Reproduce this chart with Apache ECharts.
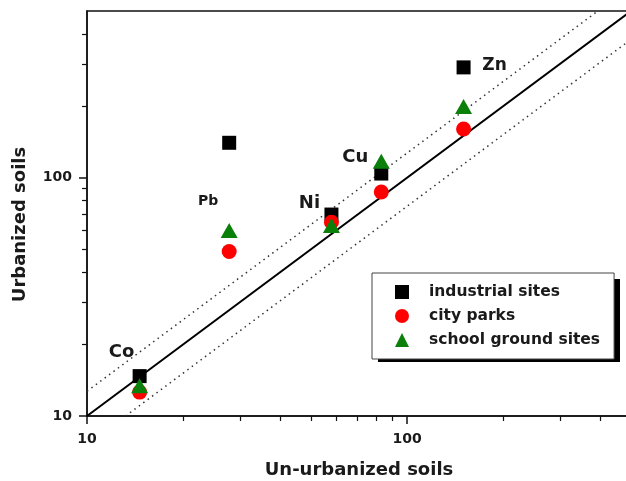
<!DOCTYPE html>
<html>
<head>
<meta charset="utf-8">
<script src="https://cdn.jsdelivr.net/npm/echarts@6/dist/echarts.min.js"></script>
<style>html,body{margin:0;padding:0;background:#fff}#c{width:626px;height:481px}</style>
</head>
<body>
<div id="c"></div>
<script>
// Data (log-log): un-urbanized soils (x) vs urbanized soils (y)
const elements = ['Co', 'Pb', 'Ni', 'Cu', 'Zn'];
const unUrbanized = [14.6, 27.8, 58, 83, 150];
const industrialSites = [14.7, 140, 70, 104, 290];
const cityParks = [12.6, 49, 65, 87, 160];
const schoolGroundSites = [13.4, 60, 63, 117, 199];
const majorTicks = [10, 100];
const oneToOne = [[10, 10], [500, 500]];
const upperBound = [[10, 12.7], [394, 500]];
const lowerBound = [[13.2, 10], [500, 380]];

const FONT = 'DejaVu Sans, sans-serif';
const TXT = '#1a1a1a';

function pairs(ys) { return unUrbanized.map((x, i) => [x, ys[i]]); }

const labelOffsets = {Co: [-18, -24], Pb: [-21, 59], Ni: [-22, -11], Cu: [-26, -16], Zn: [31, -2]};
const labelSizes = {Co: 18, Pb: 14, Ni: 18, Cu: 18, Zn: 17};

const axisCommon = {
  type: 'log', logBase: 10, min: 10, max: 500,
  axisLine: {show: true, lineStyle: {color: '#111', width: 1.5}},
  axisTick: {show: true, inside: false, length: 8, customValues: majorTicks, lineStyle: {color: '#111', width: 1.5}},
  minorTick: {show: true, splitNumber: 9, length: 5, lineStyle: {color: '#111', width: 1.2}},
  splitLine: {show: false}, minorSplitLine: {show: false}
};

const chart = echarts.init(document.getElementById('c'), null, {renderer: 'canvas'});
chart.setOption({
  animation: false,
  backgroundColor: '#fff',
  grid: {left: 87, top: 11, width: 544, height: 405, outerBoundsMode: 'none', containLabel: false,
    show: true, borderColor: '#111', borderWidth: 1.5, backgroundColor: 'transparent'},
  xAxis: Object.assign({}, axisCommon, {
    name: 'Un-urbanized soils', nameLocation: 'middle', nameGap: 45,
    nameTextStyle: {fontFamily: FONT, fontWeight: 'bold', fontSize: 18, color: TXT},
    axisLabel: {fontFamily: FONT, fontWeight: 'bold', fontSize: 14, color: TXT, margin: 16, customValues: majorTicks}
  }),
  yAxis: Object.assign({}, axisCommon, {
    name: 'Urbanized soils', nameLocation: 'middle', nameGap: 58, nameRotate: 90,
    nameTextStyle: {fontFamily: FONT, fontWeight: 'bold', fontSize: 18, color: TXT, padding: [0, 22, 0, 0]},
    axisLabel: {fontFamily: FONT, fontWeight: 'bold', fontSize: 14, color: TXT, margin: 15, customValues: majorTicks}
  }),
  legend: {
    left: 372, top: 273, orient: 'vertical', z: 10,
    data: ['industrial sites', 'city parks', 'school ground sites'],
    backgroundColor: '#fff', borderColor: '#444', borderWidth: 1,
    padding: [11, 14, 11, 23], itemGap: 8, itemWidth: 14, itemHeight: 14,
    textStyle: {fontFamily: FONT, fontWeight: 'bold', fontSize: 15.5, color: TXT, padding: [0, 0, 0, 15], lineHeight: 16}
  },
  graphic: [
    {type: 'rect', left: 378, top: 279, z: 5, shape: {width: 242, height: 83}, style: {fill: '#000'}}
  ],
  series: [
    {type: 'line', data: oneToOne, symbol: 'none', silent: true, lineStyle: {color: '#000', width: 2}, z: 1},
    {type: 'line', data: upperBound, symbol: 'none', silent: true, lineStyle: {color: '#333', width: 1.5, type: [1.5, 4]}, z: 1},
    {type: 'line', data: lowerBound, symbol: 'none', silent: true, lineStyle: {color: '#333', width: 1.5, type: [1.5, 4]}, z: 1},
    {
      name: 'industrial sites', type: 'scatter', symbol: 'rect', symbolSize: 14,
      itemStyle: {color: '#000', opacity: 1}, z: 3,
      data: pairs(industrialSites).map((p, i) => ({
        value: p,
        label: {show: true, position: 'inside', formatter: elements[i], offset: labelOffsets[elements[i]],
          fontFamily: FONT, fontWeight: 'bold', fontSize: labelSizes[elements[i]], color: TXT}
      }))
    },
    {name: 'city parks', type: 'scatter', symbol: 'circle', symbolSize: 15, itemStyle: {color: '#ff0000', opacity: 1}, z: 4, data: pairs(cityParks)},
    {name: 'school ground sites', type: 'scatter', symbol: 'triangle', symbolSize: [17, 15], itemStyle: {color: '#0a800a', opacity: 1}, z: 5, data: pairs(schoolGroundSites)}
  ]
});
</script>
</body>
</html>
